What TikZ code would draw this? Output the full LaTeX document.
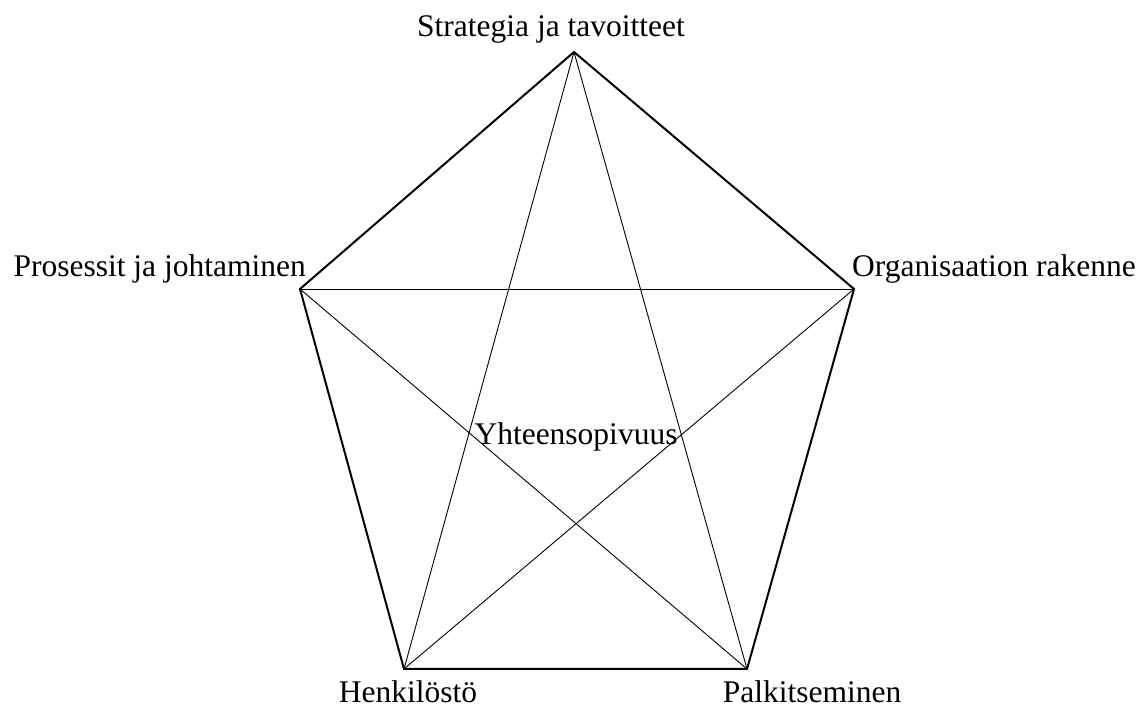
\documentclass[tikz,border=0pt]{standalone}
\usepackage{fontspec}
\setmainfont{Liberation Serif}
\begin{document}
\begin{tikzpicture}[x=1pt,y=1pt,
  lbl/.style={font=\fontsize{31.5}{38}\selectfont, inner sep=0pt},
  outer/.style={line width=2pt, line join=miter},
  inner/.style={line width=0.9pt}]
\useasboundingbox (0,0) rectangle (1142,711);
\coordinate (T) at (574,659);
\coordinate (L) at (300,422);
\coordinate (R) at (854,422);
\coordinate (BL) at (404,42);
\coordinate (BR) at (747,42);
\draw[outer] (T) -- (R) -- (BR) -- (BL) -- (L) -- cycle;
\draw[inner] (T) -- (BL);
\draw[inner] (T) -- (BR);
\draw[inner] (L) -- (R);
\draw[inner] (L) -- (BR);
\draw[inner] (R) -- (BL);
\node[lbl, anchor=base] (tl) at (551,674) {Strategia ja tavoitteet};
\node[lbl, anchor=base east] (ll) at (306,434) {Prosessit ja johtaminen};
\node[lbl, anchor=base west] (rl) at (852,434) {Organisaation rakenne};
\node[lbl, anchor=base] (bll) at (408,8) {Henkilöstö};
\node[lbl, anchor=base] (brl) at (812,8) {Palkitseminen};
\node[lbl, anchor=base] (cl) at (576,266) {Yhteensopivuus};
\end{tikzpicture}
\end{document}
